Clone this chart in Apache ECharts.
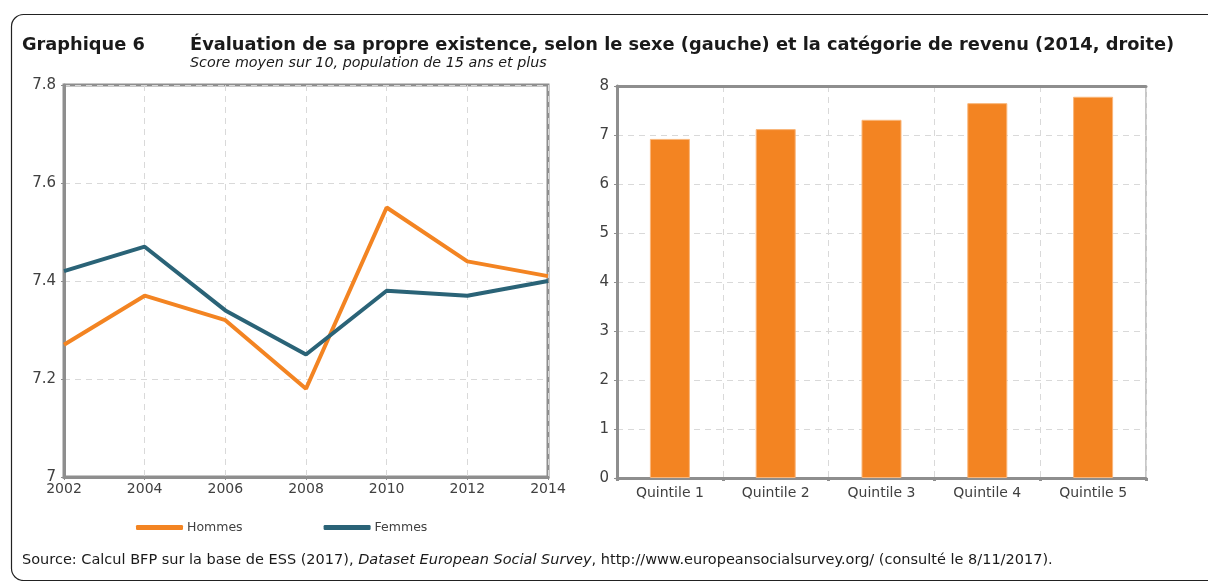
<!DOCTYPE html>
<html>
<head>
<meta charset="utf-8">
<script src="https://cdn.jsdelivr.net/npm/echarts@6/dist/echarts.min.js"></script>
<style>
  html, body {margin: 0; padding: 0; background: #fff;}
  #contain {width: 1208px; height: 581px;}
</style>
</head>
<body>
<div id="contain"></div>
<script>
// left chart: score by sex
var years = ['2002', '2004', '2006', '2008', '2010', '2012', '2014'];
var hommes = [7.27, 7.37, 7.32, 7.18, 7.55, 7.44, 7.41];
var femmes = [7.42, 7.47, 7.34, 7.25, 7.38, 7.37, 7.40];

// right chart: score by income quintile (2014)
var quintiles = ['Quintile 1', 'Quintile 2', 'Quintile 3', 'Quintile 4', 'Quintile 5'];
var scores = [6.92, 7.12, 7.31, 7.65, 7.78];

var font = '"DejaVu Sans", sans-serif';
var orange = '#F38422';
var teal = '#2A6377';
var axisGray = '#8E8E8E';
var gridLine = {show: true, lineStyle: {color: '#D9D9D9', type: [6, 5], width: 1}};

var myChart = echarts.init(document.getElementById('contain'));
var option = {
    animation: false,
    backgroundColor: '#fff',
    textStyle: {fontFamily: font},
    title: [
        {
            text: 'Graphique 6', left: 22, top: 36, padding: 0,
            textStyle: {fontFamily: font, fontSize: 17.8, fontWeight: 'bold', color: '#1a1a1a'}
        },
        {
            text: 'Évaluation de sa propre existence, selon le sexe (gauche) et la catégorie de revenu (2014, droite)',
            left: 190, top: 36, padding: 0,
            textStyle: {fontFamily: font, fontSize: 17.8, fontWeight: 'bold', color: '#1a1a1a'}
        },
        {
            text: 'Score moyen sur 10, population de 15 ans et plus',
            left: 190, top: 56, padding: 0,
            textStyle: {fontFamily: font, fontSize: 14.3, fontStyle: 'italic', fontWeight: 'normal', color: '#1a1a1a'}
        }
    ],
    legend: {
        left: 136, top: 521, padding: 0,
        itemWidth: 47, itemHeight: 5, itemGap: 81,
        icon: 'roundRect',
        textStyle: {fontFamily: font, fontSize: 12.5, color: '#404040', padding: [0, 0, 0, -1]},
        data: ['Hommes', 'Femmes']
    },
    grid: [
        {left: 64, right: 660, top: 85, bottom: 104, show: true, borderColor: axisGray, borderWidth: 3},
        {left: 617, right: 62, top: 86, bottom: 103, show: true, borderColor: axisGray, borderWidth: 1}
    ],
    xAxis: [
        {
            type: 'category', gridIndex: 0, data: years, boundaryGap: false,
            axisLine: {show: true, lineStyle: {color: axisGray, width: 3}},
            axisTick: {show: true, length: 3, lineStyle: {color: axisGray}},
            axisLabel: {color: '#404040', fontSize: 14, fontFamily: font, margin: 5},
            splitLine: gridLine
        },
        {
            type: 'category', gridIndex: 1, data: quintiles, boundaryGap: true,
            axisLine: {show: true, lineStyle: {color: axisGray, width: 3}},
            axisTick: {show: true, length: 3, lineStyle: {color: axisGray, width: 3}},
            axisLabel: {color: '#404040', fontSize: 14, fontFamily: font, margin: 8},
            splitLine: gridLine
        },
        {
            type: 'category', gridIndex: 1, data: quintiles, position: 'top',
            axisLine: {show: true, lineStyle: {color: axisGray, width: 3}},
            axisTick: {show: false}, axisLabel: {show: false}, splitLine: {show: false}
        }
    ],
    yAxis: [
        {
            type: 'value', gridIndex: 0, min: 7, max: 7.8, interval: 0.2,
            axisLine: {show: true, lineStyle: {color: axisGray, width: 3}},
            axisTick: {show: true, length: 3, lineStyle: {color: axisGray}},
            axisLabel: {color: '#404040', fontSize: 15, fontFamily: font, margin: 8},
            splitLine: gridLine
        },
        {
            type: 'value', gridIndex: 1, min: 0, max: 8, interval: 1,
            axisLine: {show: true, lineStyle: {color: axisGray, width: 3}},
            axisTick: {show: true, length: 3, lineStyle: {color: axisGray}},
            axisLabel: {color: '#404040', fontSize: 15, fontFamily: font, margin: 8},
            splitLine: gridLine
        }
    ],
    series: [
        {
            name: 'Hommes', type: 'line', xAxisIndex: 0, yAxisIndex: 0,
            data: hommes, symbol: 'none', itemStyle: {color: orange},
            lineStyle: {color: orange, width: 4}
        },
        {
            name: 'Femmes', type: 'line', xAxisIndex: 0, yAxisIndex: 0,
            data: femmes, symbol: 'none', itemStyle: {color: teal},
            lineStyle: {color: teal, width: 4}
        },
        {
            name: 'Score', type: 'bar', xAxisIndex: 1, yAxisIndex: 1,
            data: scores, barWidth: 40,
            itemStyle: {color: orange, borderColor: '#F9B67A', borderWidth: 1}
        }
    ],
    graphic: [
        {
            type: 'rect', left: 9, top: 12, silent: true,
            shape: {width: 1230, height: 566, r: 12},
            style: {fill: 'none', stroke: '#222', lineWidth: 1.2}
        },
        {
            type: 'text', left: 22, top: 553, silent: true,
            style: {
                text: '{n|Source: Calcul BFP sur la base de ESS (2017), }{i|Dataset European Social Survey}{n|, http://www.europeansocialsurvey.org/ (consulté le 8/11/2017).}',
                rich: {
                    n: {fontFamily: font, fontSize: 14.5, fill: '#1a1a1a'},
                    i: {fontFamily: font, fontSize: 14.5, fontStyle: 'italic', fill: '#1a1a1a'}
                }
            }
        }
    ]
};
myChart.setOption(option, true);
</script>
</body>
</html>
